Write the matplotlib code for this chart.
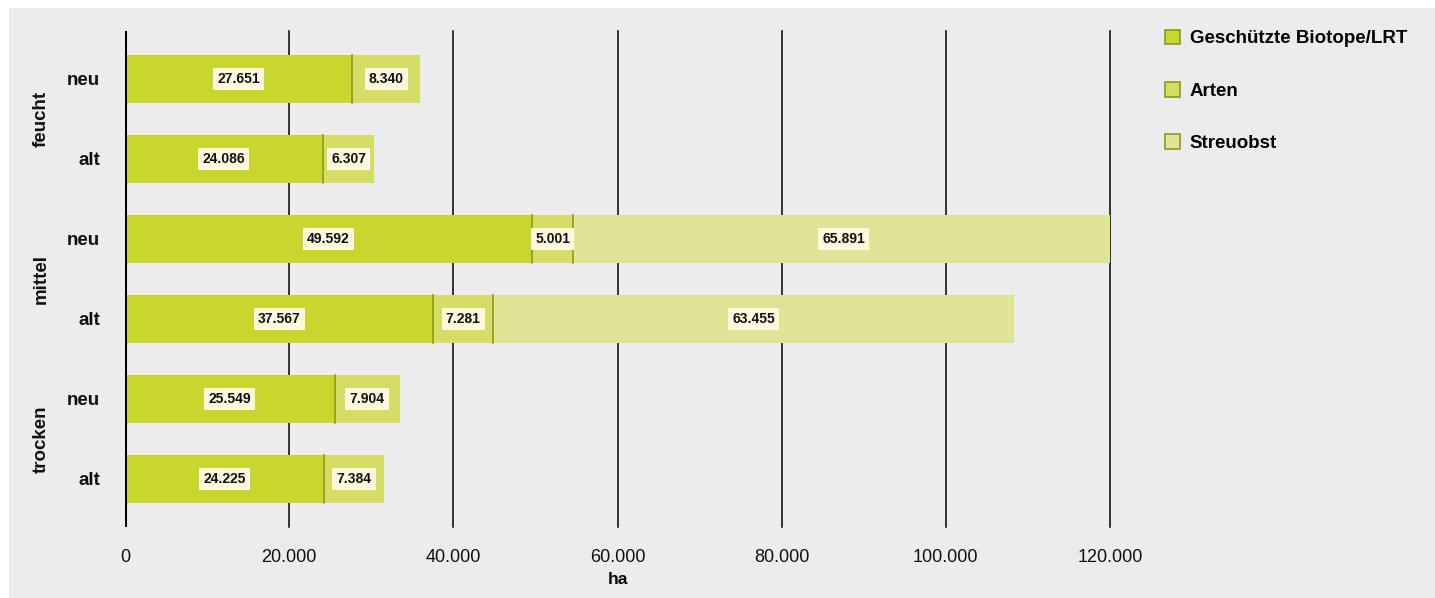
import matplotlib
matplotlib.use("Agg")
from matplotlib import pyplot as plt
from matplotlib.patches import Rectangle
from matplotlib.transforms import blended_transform_factory
import numpy as np

plt.rcParams['font.family'] = ['Liberation Sans', 'DejaVu Sans']

# data
groups = ['feucht', 'mittel', 'trocken']
rows = ['neu', 'alt', 'neu', 'alt', 'neu', 'alt']
series = ['Geschützte Biotope/LRT', 'Arten', 'Streuobst']
biotope = [27651, 24086, 49592, 37567, 25549, 24225]
arten = [8340, 6307, 5001, 7281, 7904, 7384]
streuobst = [0, 0, 65891, 63455, 0, 0]
xticks = [0, 20000, 40000, 60000, 80000, 100000, 120000]

colors = ['#c8d62e', '#d6dd66', '#e1e496']
edge = '#8f9a1c'
bg = '#ececec'

W, H = 1435, 598
fig = plt.figure(figsize=(W / 100, H / 100), dpi=100)
fig.patch.set_facecolor('white')
fig.add_artist(Rectangle((9 / W, 0), 1 - 9 / W, 1 - 8 / H, transform=fig.transFigure,
                         facecolor=bg, edgecolor='none', zorder=0))

ax = fig.add_axes([125 / W, 1 - 527 / H, (1110 - 125) / W, (527 - 31) / H])
ax.set_facecolor('none')
ax.set_xlim(0, 120000)
ax.set_ylim(5.6, -0.6)

y = np.arange(len(rows))
bh = 0.61
data = [biotope, arten, streuobst]
left = np.zeros(len(rows))
for k, vals in enumerate(data):
    vals = np.array(vals, dtype=float)
    ax.barh(y, vals, left=left, height=bh, color=colors[k], edgecolor='none', zorder=2,
            label=series[k])
    for i in range(len(rows)):
        if vals[i] <= 0:
            continue
        if left[i] > 0:
            ax.plot([left[i], left[i]], [y[i] - bh / 2, y[i] + bh / 2], color=edge, lw=1.2, zorder=3)
        ax.text(left[i] + vals[i] / 2, y[i], f"{int(vals[i]):,}".replace(',', '.'),
                ha='center', va='center', fontsize=10, fontweight='bold', color='#111111', zorder=4,
                bbox=dict(boxstyle='square,pad=0.3', facecolor='#fdf9dc', edgecolor='none'))
    left = left + vals

for xt in xticks[1:]:
    ax.axvline(xt, color='black', lw=1.1, zorder=1, clip_on=False)
ax.axvline(0, color='black', lw=2.2, zorder=5)

for s in ax.spines.values():
    s.set_visible(False)
ax.set_xticks(xticks)
ax.set_xticklabels([f"{v:,}".replace(',', '.') for v in xticks], fontsize=13, color='#111111')
ax.tick_params(axis='x', length=0, pad=16)
ax.set_yticks(y)
ax.set_yticklabels(rows, fontsize=13.5, fontweight='bold', color='#111111')
ax.tick_params(axis='y', length=0, pad=18)
ax.set_xlabel('ha', fontsize=12.5, fontweight='bold', labelpad=4)

tr = blended_transform_factory(ax.transAxes, ax.transData)
for g, name in enumerate(groups):
    ax.text(-0.085, 2 * g + 0.5, name, transform=tr, rotation=90,
            ha='center', va='center', fontsize=13.5, fontweight='bold', color='#111111')

# legend
handles = [Rectangle((0, 0), 1, 1, facecolor=c, edgecolor=edge, lw=1.2) for c in colors]
fig.legend(handles, series, loc='upper left', bbox_to_anchor=(1157 / W, 1 - 22 / H),
           frameon=False, prop={'weight': 'bold', 'size': 13.5}, handlelength=0.85,
           handleheight=0.85, handletextpad=0.5, labelspacing=1.83, borderaxespad=0)

fig.savefig('out.png', dpi=100, facecolor=fig.get_facecolor())
